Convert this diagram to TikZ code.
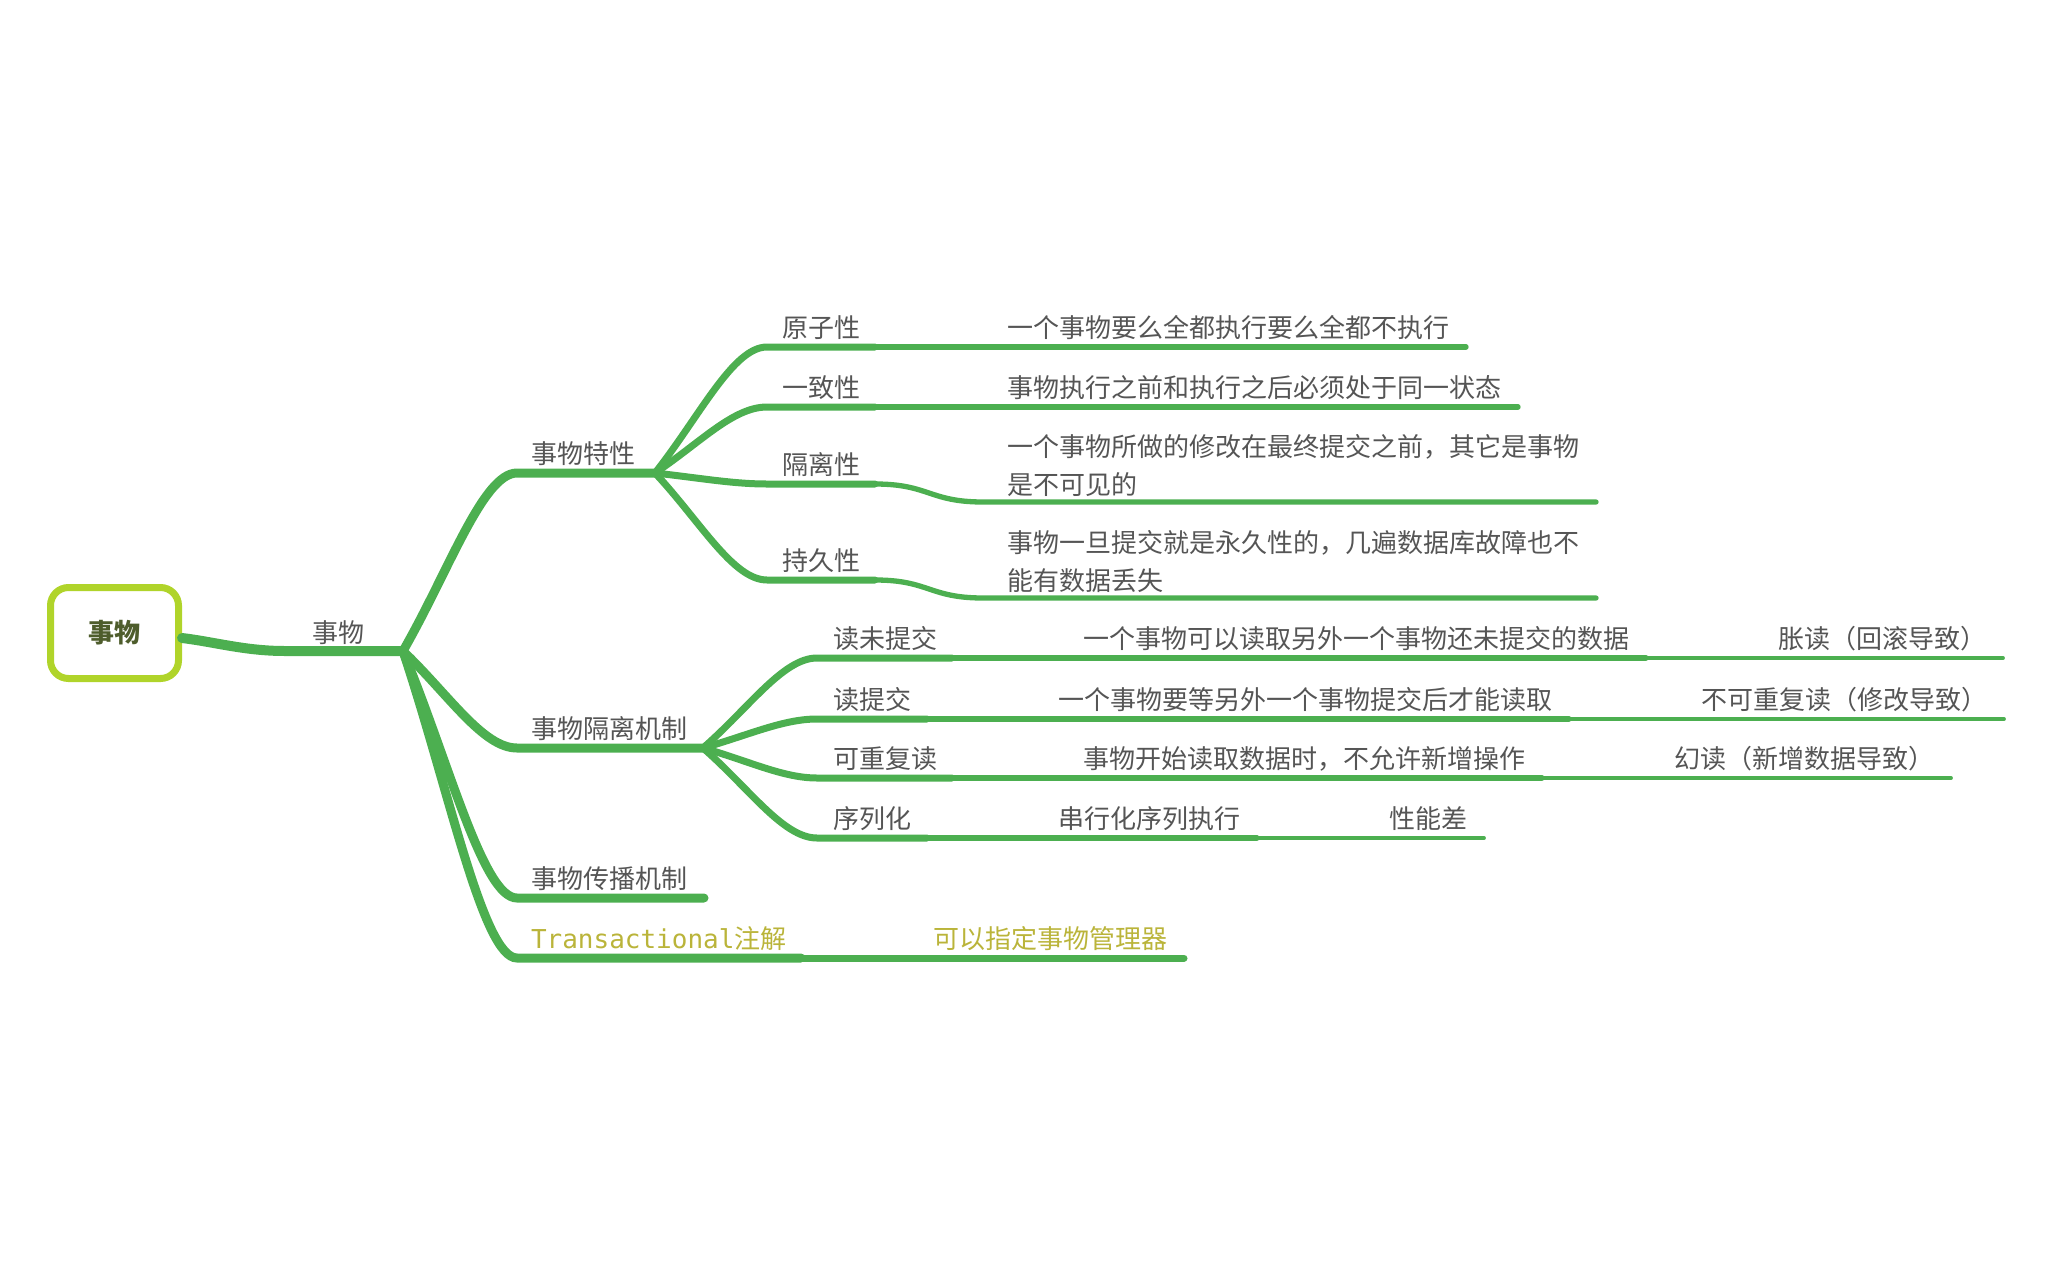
\documentclass[tikz,border=0pt]{standalone}
\usepackage{fontspec}
\setmainfont{Noto Sans CJK SC}
\newfontfamily\monoLat{DejaVu Sans Mono}
\usetikzlibrary{calc}
\definecolor{mmgreen}{HTML}{4CAF50}
\definecolor{rootline}{HTML}{B0D42A}
\definecolor{txtgray}{HTML}{555555}
\definecolor{roottxt}{HTML}{4E5D2C}
\definecolor{olivetxt}{HTML}{BAB43A}
\begin{document}
\begin{tikzpicture}[x=1pt,y=-1pt,
  lbl/.style={anchor=west, inner sep=0pt, outer sep=0pt, text=txtgray,
              font=\fontsize{26}{38}\selectfont, align=left},
  olbl/.style={lbl, text=olivetxt},
  rootbox/.style={draw=rootline, line width=7pt, fill=white, rounded corners=18pt,
                  minimum width=128pt, minimum height=91pt, inner sep=0pt,
                  text=roottxt, font=\fontsize{26}{30}\selectfont\bfseries},
  brR/.style={draw=mmgreen, line width=10pt, line cap=round},
  brA/.style={draw=mmgreen, line width=9pt, line cap=round},
  brB/.style={draw=mmgreen, line width=7pt, line cap=round},
  brC/.style={draw=mmgreen, line width=5.3pt, line cap=round},
  brD/.style={draw=mmgreen, line width=3.8pt, line cap=round}]
\useasboundingbox (0,0) rectangle (2048,1266);

% ---------- junctions ----------
\coordinate (J0) at (403,651);
\coordinate (J1) at (655,473);
\coordinate (J2) at (703,748);
\coordinate (K1) at (875,347);
\coordinate (K2) at (875,407);
\coordinate (K3) at (875,484);
\coordinate (K4) at (875,580);
\coordinate (K5) at (952,658);
\coordinate (K6) at (927,719);
\coordinate (K7) at (952,778);
\coordinate (K8) at (927,838);
\coordinate (K9) at (801,958);

% ---------- root ----------
\node[rootbox] (root) at (114.5,633) {事物};
\node[lbl, anchor=center] (l0) at (338,633) {事物};
\draw[brR] ($(root.east)+(0,5)$) .. controls (215,642) and (245,651) .. (285,651) -- (J0);

% ---------- level 1 ----------
\node[lbl] (a1) at (531,454) {事物特性};
\node[lbl] (a2) at (531,729) {事物隔离机制};
\node[lbl] (a3) at (531,879) {事物传播机制};
\node[olbl] (a4) at (531,939) {{\monoLat Transactional}注解};

\draw[brA] (J0) .. controls (449,571) and (483,473) .. (517,473) -- (J1);
\draw[brA] (J0) .. controls (449,695) and (483,748) .. (517,748) -- (J2);
\draw[brA] (J0) .. controls (449,762) and (483,898) .. (517,898) -- ($(a3.east)+(17,19)$);
\draw[brA] (J0) .. controls (449,789) and (483,958) .. (517,958) -- (K9);

% Transactional detail
\node[olbl] (g1) at ($(K9)+(132,-19)$) {可以指定事物管理器};
\draw[brB] (K9) -- ($(g1.east)+(17,19)$);

% ---------- level 2 : 事物特性 ----------
\node[lbl] (b1) at (782,328) {原子性};
\node[lbl] (b2) at (782,388) {一致性};
\node[lbl] (b3) at (782,465) {隔离性};
\node[lbl] (b4) at (782,561) {持久性};

\draw[brB] (J1) .. controls (700,416) and (733,347) .. (767,347) -- (K1);
\draw[brB] (J1) .. controls (700,443) and (733,407) .. (767,407) -- (K2);
\draw[brB] (J1) .. controls (700,478) and (733,484) .. (767,484) -- (K3);
\draw[brB] (J1) .. controls (700,521) and (733,580) .. (767,580) -- (K4);

\node[lbl] (c1) at ($(K1)+(132,-19)$) {一个事物要么全都执行要么全都不执行};
\node[lbl] (c2) at ($(K2)+(132,-19)$) {事物执行之前和执行之后必须处于同一状态};
\node[lbl] (c3) at (1007,466) {一个事物所做的修改在最终提交之前，其它是事物\\是不可见的};
\node[lbl] (c4) at (1007,562) {事物一旦提交就是永久性的，几遍数据库故障也不\\能有数据丢失};

\draw[brC] (K1) -- ($(c1.east)+(17,19)$);
\draw[brC] (K2) -- ($(c2.east)+(17,19)$);
\draw[brC] (K3) .. controls (929,484) and (929,502) .. (983,502) -- ($(c3.east)+(17,36)$);
\draw[brC] (K4) .. controls (929,580) and (929,598) .. (983,598) -- ($(c4.east)+(17,36)$);

% ---------- level 2 : 事物隔离机制 ----------
\node[lbl] (d1) at (833,639) {读未提交};
\node[lbl] (d2) at (833,700) {读提交};
\node[lbl] (d3) at (833,759) {可重复读};
\node[lbl] (d4) at (833,819) {序列化};

\draw[brB] (J2) .. controls (749,708) and (783,658) .. (817,658) -- (K5);
\draw[brB] (J2) .. controls (749,735) and (783,719) .. (817,719) -- (K6);
\draw[brB] (J2) .. controls (749,761) and (783,778) .. (817,778) -- (K7);
\draw[brB] (J2) .. controls (749,788) and (783,838) .. (817,838) -- (K8);

\node[lbl] (e1) at ($(K5)+(131,-19)$) {一个事物可以读取另外一个事物还未提交的数据};
\node[lbl] (e2) at ($(K6)+(131,-19)$) {一个事物要等另外一个事物提交后才能读取};
\node[lbl] (e3) at ($(K7)+(131,-19)$) {事物开始读取数据时，不允许新增操作};
\node[lbl] (e4) at ($(K8)+(131,-19)$) {串行化序列执行};

\coordinate (M1) at ($(e1.east)+(17,19)$);
\coordinate (M2) at ($(e2.east)+(17,19)$);
\coordinate (M3) at ($(e3.east)+(17,19)$);
\coordinate (M4) at ($(e4.east)+(17,19)$);
\draw[brC] (K5) -- (M1);
\draw[brC] (K6) -- (M2);
\draw[brC] (K7) -- (M3);
\draw[brC] (K8) -- (M4);

\node[lbl] (f1) at ($(M1)+(132,-19)$) {胀读（回滚导致）};
\node[lbl] (f2) at ($(M2)+(132,-19)$) {不可重复读（修改导致）};
\node[lbl] (f3) at ($(M3)+(132,-19)$) {幻读（新增数据导致）};
\node[lbl] (f4) at ($(M4)+(132,-19)$) {性能差};

\draw[brD] (M1) -- ($(f1.east)+(17,19)$);
\draw[brD] (M2) -- ($(f2.east)+(17,19)$);
\draw[brD] (M3) -- ($(f3.east)+(17,19)$);
\draw[brD] (M4) -- ($(f4.east)+(17,19)$);
\end{tikzpicture}
\end{document}
